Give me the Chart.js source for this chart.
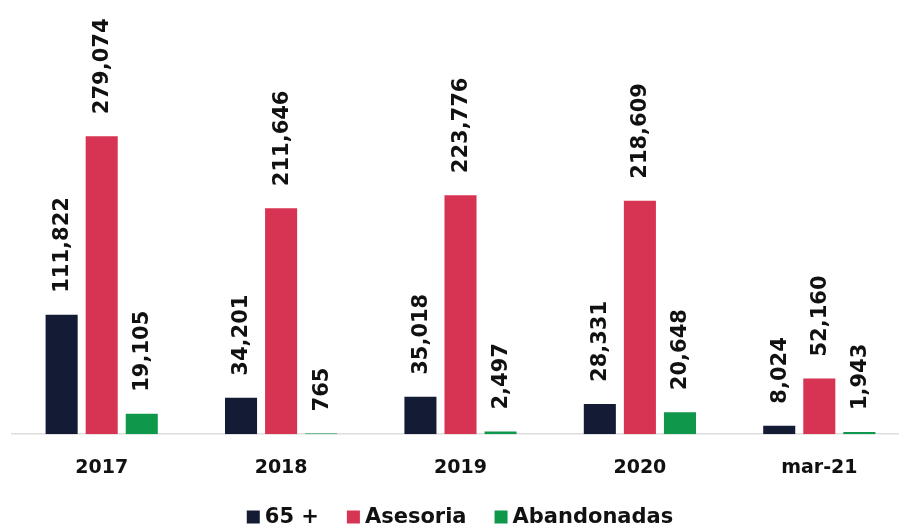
<!DOCTYPE html>
<html>
<head>
<meta charset="utf-8">
<script src="https://cdn.jsdelivr.net/npm/chart.js@4.4.1/dist/chart.umd.min.js"></script>
<style>
  html, body { margin: 0; padding: 0; background: #ffffff; overflow: hidden; }
  #wrap { position: relative; width: 910px; height: 529px; }
</style>
</head>
<body>
<div id="wrap"><canvas id="c"></canvas></div>
<script>
const categories = ["2017", "2018", "2019", "2020", "mar-21"];
const seriesNames = ["65 +", "Asesoria", "Abandonadas"];
const values65 = [111822, 34201, 35018, 28331, 8024];
const valuesAsesoria = [279074, 211646, 223776, 218609, 52160];
const valuesAbandonadas = [19105, 765, 2497, 20648, 1943];
const colors = ["#141b35", "#d73352", "#0f974b"];

const FONT = '"DejaVu Sans"';

const labelPlugin = {
  id: 'vlabels',
  afterDatasetsDraw(chart) {
    const ctx = chart.ctx;
    ctx.save();
    ctx.font = 'bold 21px ' + FONT;
    ctx.fillStyle = '#111111';
    ctx.textAlign = 'left';
    ctx.textBaseline = 'middle';
    chart.data.datasets.forEach((ds, di) => {
      const meta = chart.getDatasetMeta(di);
      meta.data.forEach((bar, i) => {
        const v = ds.data[i];
        const txt = v.toLocaleString('en-US');
        ctx.save();
        ctx.translate(bar.x + 1, bar.y - 22);
        ctx.rotate(-Math.PI / 2);
        ctx.fillText(txt, 0, 0);
        ctx.restore();
      });
    });
    ctx.restore();
  }
};

const legendPlugin = {
  id: 'customLegend',
  afterDraw(chart, args, opts) {
    const ctx = chart.ctx;
    ctx.save();
    ctx.font = 'bold 21px ' + FONT;
    ctx.textBaseline = 'middle';
    ctx.textAlign = 'left';
    const box = 13, gapBox = 5, gapItem = 28;
    const items = chart.data.datasets.map(ds => ({ text: ds.label, color: ds.backgroundColor, w: ctx.measureText(ds.label).width }));
    const total = items.reduce((s, it) => s + box + gapBox + it.w, 0) + gapItem * (items.length - 1);
    let x = opts.centerX - total / 2;
    const y = opts.centerY;
    items.forEach(it => {
      ctx.fillStyle = it.color;
      ctx.fillRect(x, y - box / 2, box, box);
      x += box + gapBox;
      ctx.fillStyle = '#111111';
      ctx.fillText(it.text, x, y + 1);
      x += it.w + gapItem;
    });
    ctx.restore();
  }
};

new Chart(document.getElementById('c'), {
  type: 'bar',
  data: {
    labels: categories,
    datasets: [
      { label: seriesNames[0], data: values65, backgroundColor: colors[0] },
      { label: seriesNames[1], data: valuesAsesoria, backgroundColor: colors[1] },
      { label: seriesNames[2], data: valuesAbandonadas, backgroundColor: colors[2] }
    ]
  },
  options: {
    responsive: true,
    maintainAspectRatio: false,
    animation: false,
    datasets: { bar: { barPercentage: 0.8, categoryPercentage: 0.67 } },
    layout: { padding: { top: 7, left: 12, right: 1, bottom: 28 } },
    scales: {
      x: {
        grid: { display: false, drawTicks: false },
        border: { display: true, color: '#dedede', width: 1.5 },
        ticks: { color: '#111111', padding: 22, font: { family: FONT, weight: 'bold', size: 19 } }
      },
      y: { display: false, min: 0, max: 400000 }
    },
    plugins: {
      legend: { display: false },
      tooltip: { enabled: false },
      customLegend: { centerX: 460, centerY: 517 }
    }
  },
  plugins: [labelPlugin, legendPlugin]
});
</script>
</body>
</html>
